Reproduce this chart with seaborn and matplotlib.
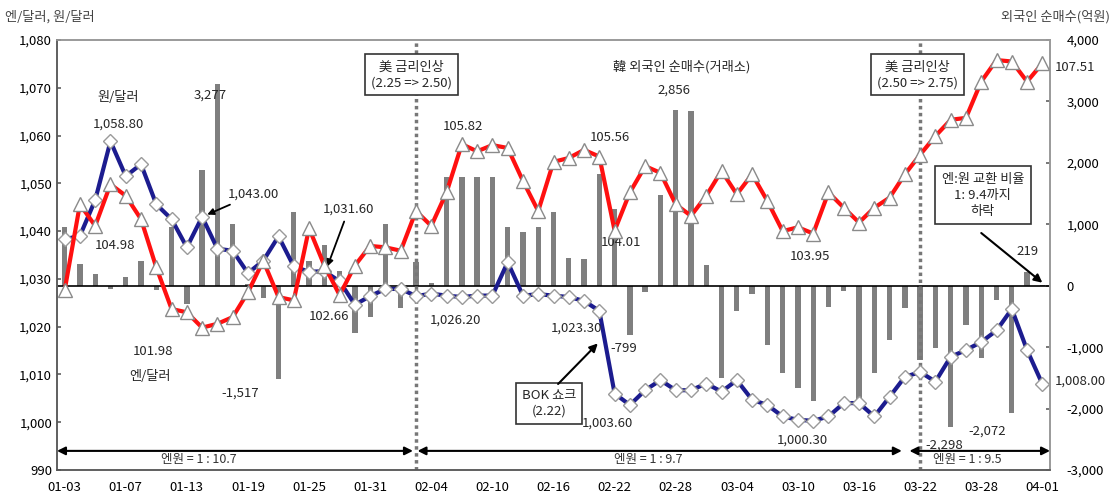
import pandas as pd
import seaborn as sns
import matplotlib.pyplot as plt
import numpy as np
from matplotlib.ticker import FuncFormatter, MultipleLocator

# trading days 2005-01-03 .. 2005-04-01
dates = pd.bdate_range('2005-01-03', '2005-04-01')
day_labels = [d.strftime('%m-%d') for d in dates]

# 원/달러 (left axis)
won_usd = [1038.3, 1039.0, 1046.5, 1058.8, 1051.5, 1054.0, 1045.6, 1042.5, 1036.6, 1043.0,
           1036.3, 1035.9, 1031.2, 1033.8, 1038.9, 1032.6, 1031.5, 1031.6, 1029.5, 1024.6,
           1026.4, 1027.9, 1027.9, 1026.4, 1026.9, 1026.5, 1026.2, 1026.5, 1026.5, 1033.5,
           1026.5, 1026.8, 1026.5, 1026.2, 1025.4, 1023.3, 1006.0, 1003.6, 1006.7, 1008.8,
           1006.7, 1006.7, 1008.1, 1006.4, 1008.8, 1004.7, 1003.6, 1001.2, 1000.5, 1000.3,
           1001.2, 1004.0, 1004.0, 1001.2, 1005.3, 1009.5, 1010.5, 1008.5, 1013.7, 1015.1,
           1016.8, 1019.2, 1023.7, 1015.1, 1008.0]

# 엔/달러 (hidden third scale, 99 ~ 108)
yen_usd = [102.76, 104.56, 104.11, 104.98, 104.74, 104.25, 103.24, 102.37, 102.30, 101.98,
           102.06, 102.20, 102.72, 103.38, 102.62, 102.55, 104.06, 103.28, 102.66, 103.28,
           103.69, 103.66, 103.59, 104.42, 104.11, 104.81, 105.82, 105.67, 105.80, 105.74,
           105.05, 104.42, 105.45, 105.53, 105.70, 105.56, 104.01, 104.81, 105.36, 105.22,
           104.56, 104.32, 104.74, 105.26, 104.77, 105.19, 104.63, 104.00, 104.08, 103.95,
           104.81, 104.49, 104.18, 104.49, 104.70, 105.19, 105.60, 105.99, 106.33, 106.37,
           107.13, 107.58, 107.55, 107.13, 107.51]

# 외국인 순매수 (억원, right axis)
net_buy = [950, 361, 190, -50, 146, 400, -70, 956, -300, 1880,
           3277, 1010, 20, -205, -1517, 1199, 395, 659, 238, -772,
           -502, 1010, -367, 389, 40, 1766, 1766, 1766, 1766, 956,
           875, 956, 1199, 454, 427, 1820, 1253, -799, -95, 1469,
           2856, 2840, 335, -1501, -405, -127, -961, -1420, -1663, -1879,
           -340, -86, -1960, -1420, -880, -367, -1204, -1015, -2298, -637,
           -1177, -232, -2072, 219, 10]

idx = np.arange(len(dates))
df = pd.DataFrame({'idx': idx, 'won': won_usd, 'yen': yen_usd, 'net': net_buy})

sns.set_theme(style='white')
plt.rcParams['font.family'] = ['Noto Sans CJK KR', 'DejaVu Sans']

fig = plt.figure(figsize=(11.16, 5.01), dpi=100)
ax = fig.add_axes([57 / 1116, 31 / 501, 993 / 1116, 430 / 501])
ax2 = ax.twinx()   # bars
ax3 = ax.twinx()   # yen line
ax.set_zorder(ax2.get_zorder() + 1)
ax3.set_zorder(ax.get_zorder() + 1)
ax.patch.set_visible(False)
ax3.patch.set_visible(False)

# bars
sns.barplot(data=df, x='idx', y='net', ax=ax2, color='#7f7f7f', width=0.35,
            saturation=1, edgecolor='none')
ax2.axhline(0, color='black', lw=1.2)
ax2.set_ylim(-3000, 4000)
ax2.yaxis.set_major_locator(MultipleLocator(1000))
ax2.yaxis.set_major_formatter(FuncFormatter(lambda v, p: f'{int(v):,}'))
ax2.set_ylabel('')
ax2.set_xlabel('')

# lines
sns.lineplot(data=df, x='idx', y='won', ax=ax, color='#1c1c8f', lw=3, marker='D',
             markersize=7, markerfacecolor='white', markeredgecolor='#9a9a9a', markeredgewidth=1)
sns.lineplot(data=df, x='idx', y='yen', ax=ax3, color='#ff1010', lw=3, marker='^',
             markersize=10, markerfacecolor='white', markeredgecolor='#8a8a8a', markeredgewidth=1)
ax.set_ylim(990, 1080)
ax3.set_ylim(99, 108)
for a in (ax, ax2, ax3):
    a.set_xlim(-0.5, len(idx) - 0.5)
ax.yaxis.set_major_locator(MultipleLocator(10))
ax.yaxis.set_major_formatter(FuncFormatter(lambda v, p: f'{int(v):,}'))
ax.set_ylabel('')
ax.set_xlabel('')
ax3.set_ylabel('')
ax3.set_yticks([])
ax3.axis('off')

ax.set_xticks(idx[::4])
ax.set_xticklabels(day_labels[::4])
ax.xaxis.set_minor_locator(MultipleLocator(1))
ax.tick_params(axis='x', which='both', direction='in', length=4, colors='#666', labelcolor='black',
               labelsize=9.5, pad=8)
ax.tick_params(axis='y', direction='in', length=3, colors='#666', labelcolor='black', labelsize=9.5)
ax2.tick_params(axis='y', direction='in', length=3, colors='#666', labelcolor='black', labelsize=9.5, pad=12)
ax2.tick_params(axis='x', bottom=False, labelbottom=False)
for a in (ax, ax2):
    for s in a.spines.values():
        s.set_color('#9a9a9a')
        s.set_linewidth(1.2)
ax.spines['left'].set_color('#555')
ax.spines['bottom'].set_color('#555')

# rate-hike markers
for x in (23, 56):
    ax.axvline(x, color='#777', ls=(0, (1, 1)), lw=2.5, zorder=0)

box = dict(boxstyle='square,pad=0.45', fc='white', ec='#333', lw=1.2)
fs = 9.5
ax.text(22.7, 1072.7, '美 금리인상\n(2.25 => 2.50)', ha='center', va='center', fontsize=fs, bbox=box,
        linespacing=1.3)
ax.text(55.8, 1072.7, '美 금리인상\n(2.50 => 2.75)', ha='center', va='center', fontsize=fs, bbox=box,
        linespacing=1.3)
ax.text(60.1, 1047.5, '엔:원 교환 비율\n1: 9.4까지\n하락', ha='center', va='center', fontsize=fs,
        bbox=dict(boxstyle='square,pad=0.5', fc='white', ec='#333', lw=1.2), linespacing=1.3)
ax.annotate('', xy=(64, 1029.2), xytext=(60.0, 1039.6),
            arrowprops=dict(arrowstyle='-|>', color='black', lw=1.5, shrinkA=0, shrinkB=0))
ax.text(31.7, 1004, 'BOK 쇼크\n(2.22)', ha='center', va='center', fontsize=fs, bbox=box, linespacing=1.3)
ax.annotate('', xy=(34.9, 1016.5), xytext=(32.3, 1008.0),
            arrowprops=dict(arrowstyle='-|>', color='black', lw=1.5, shrinkA=0, shrinkB=0))

ax.text(40.4, 1074.4, '韓 외국인 순매수(거래소)', ha='center', va='center', fontsize=fs)

# data labels
labels = [
    (3.5, 1067.9, '원/달러'), (3.5, 1062.3, '1,058.80'), (3.3, 1036.9, '104.98'),
    (5.8, 1014.8, '101.98'), (5.6, 1009.6, '엔/달러'), (11.5, 1006.0, '-1,517'),
    (9.5, 1068.5, '3,277'), (17.3, 1022.1, '102.66'), (26.1, 1061.9, '105.82'),
    (39.9, 1069.6, '2,856'), (35.7, 1059.6, '105.56'), (36.4, 1037.7, '104.01'),
    (48.8, 1034.6, '103.95'), (63.0, 1035.8, '219'), (25.6, 1021.3, '1,026.20'),
    (33.5, 1019.6, '1,023.30'), (36.6, 1015.4, '-799'), (35.5, 999.8, '1,003.60'),
    (48.3, 996.3, '1,000.30'), (57.6, 995.2, '-2,298'), (60.4, 998.1, '-2,072'),
]
for x, y, t in labels:
    ax.text(x, y, t, ha='center', va='center', fontsize=fs)
ax.text(64.8, 1074.2, '107.51', ha='left', va='center', fontsize=fs, clip_on=False)
ax.text(64.8, 1008.7, '1,008.00', ha='left', va='center', fontsize=fs, clip_on=False)

ax.annotate('1,043.00', xy=(9, won_usd[9]), xytext=(10.7, 1047.7), ha='left', va='center', fontsize=fs,
            arrowprops=dict(arrowstyle='-|>', color='black', lw=1.3, shrinkA=1, shrinkB=4))
ax.annotate('1,031.60', xy=(17.2, 1032.6), xytext=(18.6, 1044.6), ha='center', va='center', fontsize=fs,
            arrowprops=dict(arrowstyle='-|>', color='black', lw=1.3, shrinkA=2, shrinkB=0))

# exchange ratio periods
for x0, x1, xt, t in [(-0.5, 22.8, 8.8, '엔원 = 1 : 10.7'), (23.1, 54.8, 38.2, '엔원 = 1 : 9.7'),
                      (55.3, 64.5, 59.1, '엔원 = 1 : 9.5')]:
    ax.annotate('', xy=(x0, 994), xytext=(x1, 994),
                arrowprops=dict(arrowstyle='<|-|>', color='black', lw=1.5, shrinkA=0, shrinkB=0,
                                mutation_scale=12))
    ax.text(xt, 992.3, t, ha='center', va='center', fontsize=9, color='#333')

fig.text(5 / 1116, 1 - 17 / 501, '엔/달러, 원/달러', ha='left', va='center', fontsize=9.5, color='#444')
fig.text(1110 / 1116, 1 - 17 / 501, '외국인 순매수(억원)', ha='right', va='center', fontsize=9.5, color='#444')

fig.savefig('out.png', dpi=100)
